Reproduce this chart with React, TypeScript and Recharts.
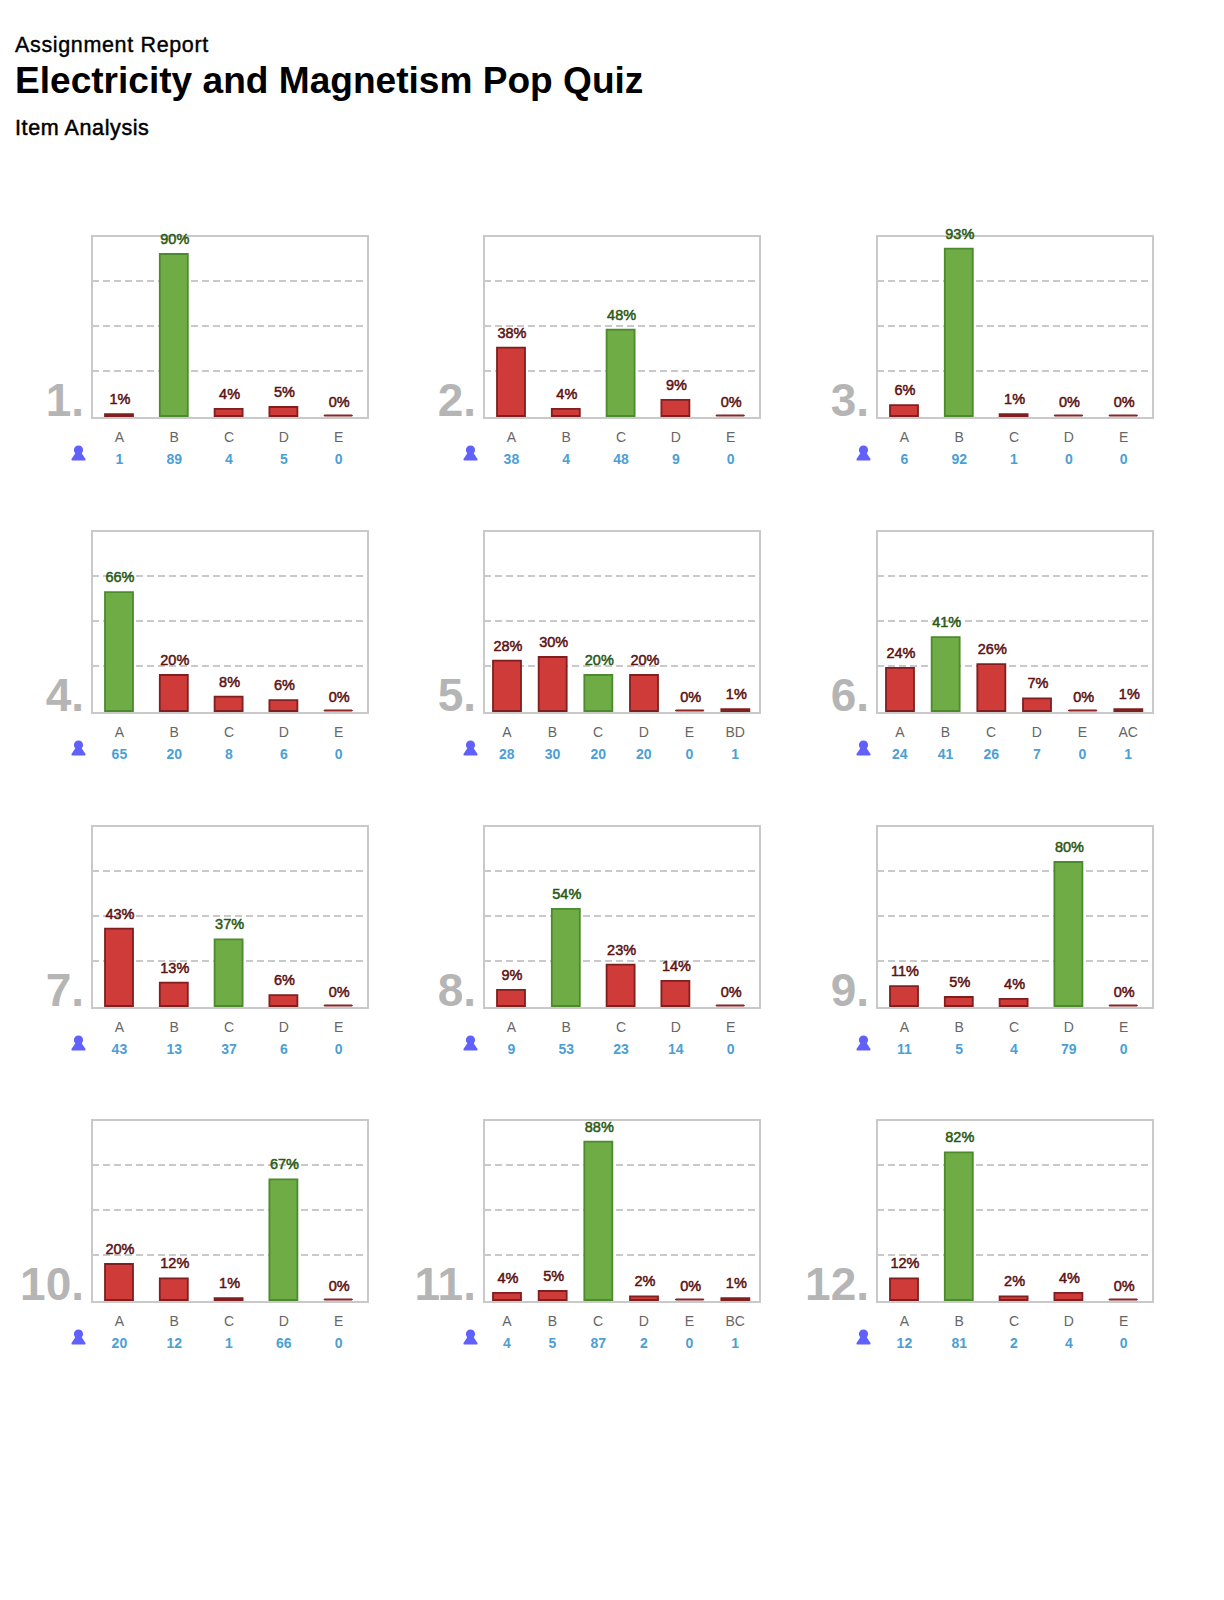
import React from 'react'
import { BarChart, Bar, XAxis, YAxis, CartesianGrid, Cell, LabelList } from 'recharts'

const choiceSets = [
  ['A', 'B', 'C', 'D', 'E'],
  ['A', 'B', 'C', 'D', 'E'],
  ['A', 'B', 'C', 'D', 'E'],
  ['A', 'B', 'C', 'D', 'E'],
  ['A', 'B', 'C', 'D', 'E', 'BD'],
  ['A', 'B', 'C', 'D', 'E', 'AC'],
  ['A', 'B', 'C', 'D', 'E'],
  ['A', 'B', 'C', 'D', 'E'],
  ['A', 'B', 'C', 'D', 'E'],
  ['A', 'B', 'C', 'D', 'E'],
  ['A', 'B', 'C', 'D', 'E', 'BC'],
  ['A', 'B', 'C', 'D', 'E'],
]

const percents = [
  [1, 90, 4, 5, 0],
  [38, 4, 48, 9, 0],
  [6, 93, 1, 0, 0],
  [66, 20, 8, 6, 0],
  [28, 30, 20, 20, 0, 1],
  [24, 41, 26, 7, 0, 1],
  [43, 13, 37, 6, 0],
  [9, 54, 23, 14, 0],
  [11, 5, 4, 80, 0],
  [20, 12, 1, 67, 0],
  [4, 5, 88, 2, 0, 1],
  [12, 82, 2, 4, 0],
]

const counts = [
  [1, 89, 4, 5, 0],
  [38, 4, 48, 9, 0],
  [6, 92, 1, 0, 0],
  [65, 20, 8, 6, 0],
  [28, 30, 20, 20, 0, 1],
  [24, 41, 26, 7, 0, 1],
  [43, 13, 37, 6, 0],
  [9, 53, 23, 14, 0],
  [11, 5, 4, 79, 0],
  [20, 12, 1, 66, 0],
  [4, 5, 87, 2, 0, 1],
  [12, 81, 2, 4, 0],
]

const correctChoices = ['B', 'C', 'B', 'A', 'C', 'B', 'C', 'B', 'D', 'D', 'C', 'B']

const FONT = '"Liberation Sans", Arial, sans-serif'
const COL_X = [92, 484, 877]
const ROW_Y = [236, 531, 826, 1120]
const PLOT_W = 274
const PLOT_H = 180
const LEFT = 90
const TOP = 30
const BOTTOM = 60

function QuizChart({ index }: { index: number }) {
  const data = choiceSets[index].map((choice, i) => ({
    choice,
    percent: percents[index][i],
    count: counts[index][i],
  }))
  const correct = correctChoices[index]
  const boxX = COL_X[index % 3]
  const boxY = ROW_Y[Math.floor(index / 3)]

  const renderTick = ({ x, y, payload }: any) => (
    <g>
      <text x={x} y={y + 26} textAnchor="middle" fontSize={14} fontFamily={FONT} fill="#666666">
        {payload.value}
      </text>
      <text x={x} y={y + 48} textAnchor="middle" fontSize={14} fontWeight={700} fontFamily={FONT} fill="#4b9fd5">
        {data[payload.index].count}
      </text>
    </g>
  )

  const renderLabel = ({ x, y, width, index: i }: any) => (
    <text
      x={x + width / 2 + 1}
      y={y - (data[i].percent === 0 ? 8 : 10)}
      textAnchor="middle"
      fontSize={14.5}
      fontFamily={FONT}
      fill={data[i].choice === correct ? '#2a5a12' : '#5c1212'}
      stroke={data[i].choice === correct ? '#2a5a12' : '#5c1212'}
      strokeWidth={0.5}
    >
      {data[i].percent}%
    </text>
  )

  return (
    <div style={{ position: 'absolute', left: boxX - LEFT, top: boxY - TOP, width: LEFT + PLOT_W + 10, height: TOP + PLOT_H + BOTTOM }}>
      <div
        style={{
          position: 'absolute',
          left: LEFT - 1,
          top: TOP - 1,
          width: PLOT_W,
          height: PLOT_H,
          border: '2px solid #c9c9c9',
        }}
      />
      <div
        style={{
          position: 'absolute',
          right: PLOT_W + 18,
          top: TOP + PLOT_H - 42,
          fontFamily: FONT,
          fontWeight: 700,
          fontSize: 46,
          lineHeight: '52px',
          color: '#b5b5b5',
          whiteSpace: 'nowrap',
        }}
      >
        {index + 1}.
      </div>
      <svg
        style={{ position: 'absolute', left: LEFT - 22, top: TOP + PLOT_H + 29 }}
        width={17}
        height={17}
        viewBox="0 0 17 17"
      >
        <circle cx={8.5} cy={5} r={4.6} fill="#6060fb" />
        <path d="M5.5 8 L11.5 8 L15.5 14 Q16 15.5 14.5 15.5 L2.5 15.5 Q1 15.5 1.5 14 Z" fill="#6060fb" />
      </svg>
      <BarChart
        style={{ position: 'absolute', left: 0, top: 0 }}
        width={LEFT + PLOT_W + 10}
        height={TOP + PLOT_H + BOTTOM}
        data={data}
        margin={{ top: TOP, right: 10, bottom: 0, left: LEFT }}
      >
        <CartesianGrid vertical={false} stroke="#c9c9c9" strokeWidth={1.8} strokeDasharray="7 4" horizontalValues={[25, 50, 75]} />
        <XAxis
          dataKey="choice"
          interval={0}
          height={BOTTOM}
          axisLine={false}
          tickLine={false}
          tickSize={0}
          tickMargin={0}
          tick={renderTick}
        />
        <YAxis hide type="number" domain={[0, 100]} ticks={[0, 25, 50, 75, 100]} />
        <Bar dataKey="percent" barSize={28} minPointSize={1} isAnimationActive={false} strokeWidth={1.8}>
          {data.map((d) => (
            <Cell
              key={d.choice}
              fill={d.choice === correct ? '#6fac45' : '#cf3b38'}
              stroke={d.choice === correct ? '#4c8a2e' : '#7f1f1f'}
              strokeWidth={d.percent === 0 ? 1 : 1.8}
            />
          ))}
          <LabelList dataKey="percent" content={renderLabel} />
        </Bar>
      </BarChart>
    </div>
  )
}

export default function App() {
  return (
    <div style={{ position: 'absolute', left: 0, top: 0, width: 1224, height: 1600, background: '#ffffff', fontFamily: FONT, color: '#000000' }}>
      <div style={{ position: 'absolute', left: 15, top: 33, fontSize: 21.5, letterSpacing: 0.65, lineHeight: '24px', whiteSpace: 'nowrap', WebkitTextStroke: '0.4px #000' }}>
        Assignment Report
      </div>
      <div style={{ position: 'absolute', left: 15, top: 59, fontSize: 37.1, lineHeight: '42px', fontWeight: 700, whiteSpace: 'nowrap' }}>
        Electricity and Magnetism Pop Quiz
      </div>
      <div style={{ position: 'absolute', left: 15, top: 116, fontSize: 21.5, letterSpacing: 0.6, lineHeight: '24px', whiteSpace: 'nowrap', WebkitTextStroke: '0.5px #000' }}>
        Item Analysis
      </div>
      {percents.map((_, i) => (
        <QuizChart key={i} index={i} />
      ))}
    </div>
  )
}
